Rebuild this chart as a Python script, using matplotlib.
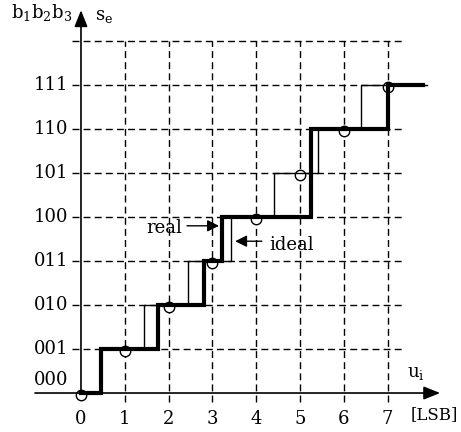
import matplotlib
matplotlib.use("Agg")
import matplotlib.pyplot as plt
import numpy as np

# ideal (thin) and real (thick) transfer characteristic of the 3-bit ADC
ideal_x = [0, 0.45, 0.45, 1.45, 1.45, 2.45, 2.45, 3.42, 3.42, 4.4, 4.4, 5.41, 5.41, 6.39, 6.39, 7.9]
ideal_y = [0, 0, 1, 1, 2, 2, 3, 3, 4, 4, 5, 5, 6, 6, 7, 7]
real_x = [0, 0.46, 0.46, 1.75, 1.75, 2.8, 2.8, 3.22, 3.22, 5.25, 5.25, 7.0, 7.0, 7.8]
real_y = [0, 0, 1, 1, 2, 2, 3, 3, 4, 4, 6, 6, 7, 7]
circle_x = [0, 1, 2, 3, 4, 5, 6, 7]
circle_y = [0, 1, 2, 3, 4, 5, 6, 7]

x_ticks = [0, 1, 2, 3, 4, 5, 6, 7]
x_labels = ["0", "1", "2", "3", "4", "5", "6", "7"]
y_ticks = [0.3, 1, 2, 3, 4, 5, 6, 7]
y_labels = ["000", "001", "010", "011", "100", "101", "110", "111"]

plt.rcParams['font.family'] = 'DejaVu Serif'
plt.rcParams['mathtext.fontset'] = 'dejavuserif'

fig = plt.figure(figsize=(4.61, 4.32), dpi=100)
ax = fig.add_axes([0, 0, 1, 1])
ax.set_xlim(-1.849, 8.676)
ax.set_ylim(-0.886, 8.932)
ax.axis('off')

#grid
for k in range(1, 9):
    ax.plot([-0.2, 7.33], [k, k], color='black', lw=1.0, ls=(0, (5, 3)), zorder=1)
for k in range(1, 8):
    ax.plot([k, k], [-0.2, 8], color='black', lw=1.0, ls=(0, (5, 3)), zorder=1)

#axes with arrows
ax.annotate("", xy=(8.2, 0), xytext=(-1.05, 0),
            arrowprops=dict(arrowstyle='-|>,head_length=0.5,head_width=0.2', mutation_scale=20,
                            color='black', lw=1.2, shrinkA=0, shrinkB=0), zorder=3)
ax.annotate("", xy=(0, 8.7), xytext=(0, 0),
            arrowprops=dict(arrowstyle='-|>,head_length=0.5,head_width=0.2', mutation_scale=20,
                            color='black', lw=1.2, shrinkA=0, shrinkB=0), zorder=3)

#circles
ax.plot(circle_x, np.array(circle_y) - 0.04, 'o', ms=7.5, mfc='white', mec='black', mew=1.0, zorder=2)

#characteristics
ax.plot(ideal_x, ideal_y, color='black', lw=1.0, zorder=4)
ax.plot(real_x, real_y, color='black', lw=3.0, zorder=5, solid_joinstyle='miter')

#tick labels
for x, lab in zip(x_ticks, x_labels):
    ax.text(x, -0.59, lab, ha='center', va='center', fontsize=13)
for y, lab in zip(y_ticks, y_labels):
    ax.text(-0.28, y, lab, ha='right', va='center', fontsize=13)

#axis labels
ax.text(-0.2, 8.64, r'$\mathrm{b_1b_2b_3}$', ha='right', va='center', fontsize=13)
ax.text(0.32, 8.57, r'$\mathrm{s_e}$', ha='left', va='center', fontsize=13)
ax.text(7.44, 0.45, r'$\mathrm{u_i}$', ha='left', va='center', fontsize=13)
ax.text(7.53, -0.5, '[LSB]', ha='left', va='center', fontsize=12)

#real / ideal annotations
ax.annotate("", xy=(3.15, 3.8), xytext=(2.42, 3.8),
            arrowprops=dict(arrowstyle='-|>,head_length=0.5,head_width=0.25', mutation_scale=14,
                            color='black', lw=1.0, shrinkA=0, shrinkB=0), zorder=6)
ax.text(2.32, 3.76, 'real', ha='right', va='center', fontsize=13)
ax.annotate("", xy=(3.52, 3.45), xytext=(4.13, 3.45),
            arrowprops=dict(arrowstyle='-|>,head_length=0.5,head_width=0.25', mutation_scale=14,
                            color='black', lw=1.0, shrinkA=0, shrinkB=0), zorder=6)
ax.text(4.31, 3.36, 'ideal', ha='left', va='center', fontsize=13)

plt.savefig("out.png", dpi=100)
